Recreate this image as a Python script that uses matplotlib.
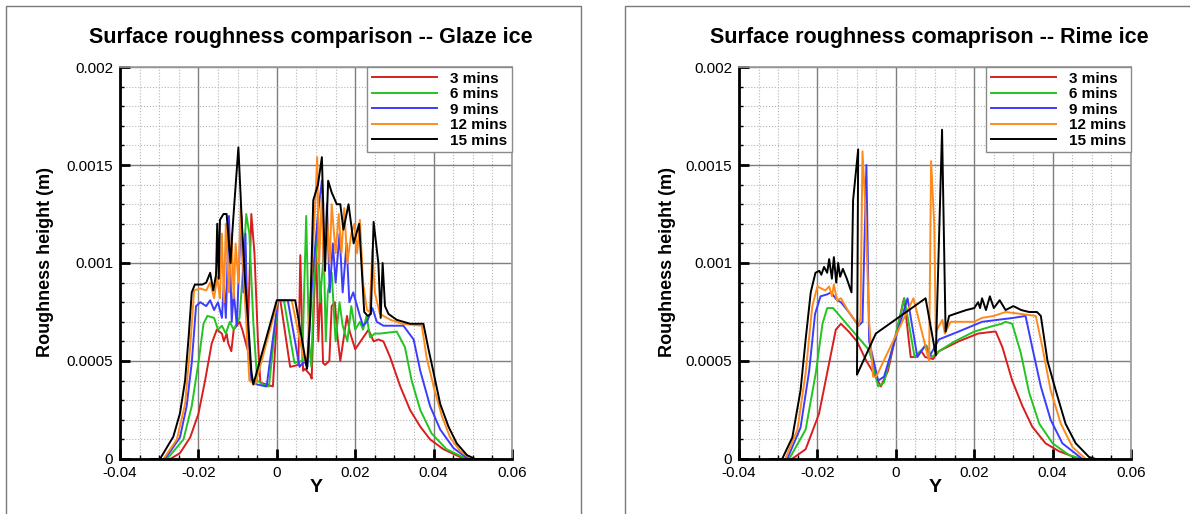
import numpy as np
import matplotlib
matplotlib.use("Agg")
import matplotlib.pyplot as plt
from matplotlib.patches import Rectangle

plt.rcParams['font.family'] = ['Liberation Sans', 'DejaVu Sans']

# ---- data: (Y position in m, roughness height in mm) ----
labels = ['3 mins', '6 mins', '9 mins', '12 mins', '15 mins']
colors = ['#d81e1e', '#22c422', '#3c3cff', '#ff8a1c', '#000000']

titles = ['Surface roughness comparison -- Glaze ice',
          'Surface roughness comaprison -- Rime ice']
xticks = [-0.04, -0.02, 0, 0.02, 0.04, 0.06]
xtick_labels = ['-0.04', '-0.02', '0', '0.02', '0.04', '0.06']
yticks = [0, 0.0005, 0.001, 0.0015, 0.002]
ytick_labels = ['0', '0.0005', '0.001', '0.0015', '0.002']

# glaze ice
glaze_3 = [(-0.032, 0), (-0.0272, 0), (-0.0247, 0.03), (-0.0221, 0.11), (-0.020, 0.23),
           (-0.0183, 0.40), (-0.0166, 0.59), (-0.0153, 0.66), (-0.014, 0.64), (-0.0135, 0.6),
           (-0.0128, 0.64), (-0.0124, 0.59), (-0.0116, 0.55), (-0.011, 0.66), (-0.0095, 0.7),
           (-0.0088, 0.66), (-0.0075, 0.56), (-0.0065, 1.25), (-0.0057, 1.05), (-0.0048, 0.6),
           (-0.0042, 0.39), (-0.001, 0.37), (0.0003, 0.81), (0.0009, 0.81), (0.0034, 0.47),
           (0.0055, 0.48), (0.006, 1.04), (0.0067, 0.45), (0.0072, 0.46), (0.0085, 0.43),
           (0.0089, 0.41), (0.0095, 0.8), (0.0100, 1.1), (0.0106, 0.6), (0.0112, 0.9),
           (0.0118, 0.49), (0.0123, 0.48), (0.0134, 0.5), (0.014, 0.78), (0.0148, 0.8),
           (0.0155, 0.62), (0.0162, 0.5), (0.0179, 0.73), (0.0186, 0.65), (0.020, 0.56),
           (0.0217, 0.61), (0.0234, 0.66), (0.0247, 0.6), (0.0259, 0.61), (0.0272, 0.6),
           (0.0289, 0.52), (0.0315, 0.37), (0.034, 0.25), (0.0366, 0.165), (0.0391, 0.1),
           (0.0425, 0.05), (0.0468, 0.01), (0.049, 0), (0.055, 0)]

glaze_6 = [(-0.032, 0), (-0.028, 0), (-0.0238, 0.1), (-0.0217, 0.27), (-0.020, 0.49),
           (-0.0187, 0.69), (-0.0177, 0.73), (-0.016, 0.72), (-0.015, 0.66), (-0.014, 0.68),
           (-0.013, 0.64), (-0.012, 0.7), (-0.011, 0.66), (-0.0095, 0.72), (-0.0085, 1.0),
           (-0.0078, 1.25), (-0.007, 1.15), (-0.006, 0.7), (-0.005, 0.4), (-0.0035, 0.38),
           (-0.002, 0.37), (0.0003, 0.81), (0.0018, 0.81), (0.0045, 0.49), (0.0065, 0.5),
           (0.0075, 1.24), (0.0082, 0.6), (0.0088, 0.47), (0.0095, 0.9), (0.0105, 1.2),
           (0.011, 0.8), (0.012, 1.05), (0.0125, 0.6), (0.013, 0.85), (0.014, 0.95),
           (0.015, 0.6), (0.016, 0.8), (0.0168, 0.68), (0.018, 0.6), (0.019, 0.78),
           (0.020, 0.66), (0.0212, 0.7), (0.022, 0.66), (0.0229, 0.73), (0.0238, 0.62),
           (0.025, 0.64), (0.0263, 0.64), (0.0306, 0.65), (0.0327, 0.57), (0.0344, 0.4),
           (0.0366, 0.25), (0.0395, 0.13), (0.0433, 0.05), (0.0485, 0), (0.055, 0)]

glaze_9 = [(-0.032, 0), (-0.0285, 0), (-0.0247, 0.11), (-0.023, 0.27), (-0.0217, 0.49),
           (-0.0206, 0.78), (-0.0195, 0.8), (-0.018, 0.78), (-0.017, 0.81), (-0.016, 0.76),
           (-0.015, 0.8), (-0.014, 0.72), (-0.0135, 0.9), (-0.013, 0.72), (-0.0122, 1.24),
           (-0.0115, 0.7), (-0.011, 0.85), (-0.0102, 0.68), (-0.0095, 1.05), (-0.009, 1.24),
           (-0.0085, 0.85), (-0.008, 1.15), (-0.0075, 0.7), (-0.0065, 0.4), (-0.005, 0.38),
           (-0.0026, 0.37), (0.0003, 0.81), (0.0028, 0.81), (0.0058, 0.47), (0.007, 0.5),
           (0.0078, 0.47), (0.009, 0.9), (0.0105, 1.25), (0.0115, 1.42), (0.012, 0.95),
           (0.0128, 1.3), (0.0135, 0.85), (0.0143, 1.1), (0.015, 0.9), (0.016, 1.15),
           (0.0168, 0.85), (0.0178, 1.1), (0.0185, 0.8), (0.0195, 0.85), (0.0205, 0.78),
           (0.0212, 0.73), (0.022, 0.68), (0.023, 0.7), (0.0244, 0.77), (0.0255, 0.7),
           (0.0272, 0.68), (0.030, 0.68), (0.0323, 0.68), (0.0349, 0.61), (0.0366, 0.45),
           (0.0391, 0.27), (0.0417, 0.15), (0.0451, 0.055), (0.0489, 0), (0.055, 0)]

glaze_12 = [(-0.032, 0), (-0.0289, 0), (-0.0255, 0.1), (-0.0234, 0.28), (-0.0221, 0.57),
            (-0.0211, 0.86), (-0.0195, 0.87), (-0.018, 0.86), (-0.017, 0.9), (-0.016, 0.82),
            (-0.0152, 0.93), (-0.0145, 0.82), (-0.014, 1.15), (-0.0135, 0.8), (-0.013, 1.2),
            (-0.0122, 0.85), (-0.0115, 1.15), (-0.011, 0.82), (-0.0105, 1.1), (-0.0098, 0.9),
            (-0.0092, 1.3), (-0.0085, 0.95), (-0.0078, 0.7), (-0.007, 0.4), (-0.0055, 0.38),
            (0.0003, 0.81), (0.0038, 0.81), (0.007, 0.5), (0.0078, 0.52), (0.009, 1.0),
            (0.0098, 1.3), (0.0103, 1.54), (0.0108, 1.0), (0.0115, 1.35), (0.012, 0.95),
            (0.0128, 1.25), (0.0135, 1.0), (0.014, 1.3), (0.015, 1.05), (0.0158, 1.25),
            (0.0165, 1.05), (0.0172, 1.28), (0.018, 1.0), (0.019, 1.15), (0.0198, 1.2),
            (0.0205, 1.05), (0.0212, 1.22), (0.022, 0.9), (0.023, 0.76), (0.0237, 0.75),
            (0.0244, 1.07), (0.025, 0.85), (0.0263, 0.74), (0.029, 0.71), (0.032, 0.69),
            (0.037, 0.68), (0.0382, 0.52), (0.040, 0.37), (0.0421, 0.22), (0.0442, 0.11),
            (0.0468, 0.04), (0.0497, 0), (0.055, 0)]

glaze_15 = [(-0.032, 0), (-0.0298, 0), (-0.0264, 0.114), (-0.0247, 0.233), (-0.0234, 0.4),
            (-0.0225, 0.62), (-0.0217, 0.85), (-0.0209, 0.89), (-0.019, 0.89), (-0.018, 0.9),
            (-0.017, 0.95), (-0.0162, 0.86), (-0.0155, 0.94), (-0.0152, 1.2), (-0.0148, 0.92),
            (-0.0145, 1.22), (-0.0136, 1.25), (-0.0128, 1.25), (-0.0118, 1.0), (-0.0113, 1.17),
            (-0.0107, 1.34), (-0.0098, 1.59), (-0.0089, 1.2), (-0.0081, 0.91), (-0.0073, 0.7),
            (-0.0065, 0.45), (-0.006, 0.38), (0.0, 0.81), (0.0047, 0.81), (0.0077, 0.46),
            (0.0085, 0.72), (0.0093, 1.32), (0.0105, 1.4), (0.0115, 1.54), (0.0123, 0.96),
            (0.0131, 1.42), (0.014, 1.36), (0.0153, 1.3), (0.0162, 1.3), (0.017, 1.17),
            (0.0183, 1.3), (0.0196, 1.1), (0.021, 1.2), (0.0223, 0.75), (0.0232, 0.73),
            (0.024, 0.74), (0.0247, 1.21), (0.0259, 1.0), (0.0265, 0.72), (0.027, 1.0),
            (0.0276, 0.78), (0.0285, 0.74), (0.0306, 0.71), (0.034, 0.69), (0.0374, 0.69),
            (0.0387, 0.56), (0.040, 0.44), (0.0417, 0.28), (0.0438, 0.165), (0.0459, 0.08),
            (0.0485, 0.02), (0.0506, 0), (0.055, 0)]

# rime ice
rime_3 = [(-0.032, 0), (-0.0265, 0), (-0.023, 0.05), (-0.0196, 0.23), (-0.017, 0.49),
          (-0.0153, 0.66), (-0.014, 0.69), (-0.012, 0.65), (-0.0099, 0.6), (-0.0075, 0.5),
          (-0.0051, 0.42), (-0.0038, 0.37), (-0.002, 0.45), (0.0021, 0.82), (0.0038, 0.52),
          (0.005, 0.52), (0.0065, 0.55), (0.0075, 0.52), (0.0095, 0.51), (0.011, 0.55),
          (0.016, 0.6), (0.021, 0.64), (0.025, 0.65), (0.0255, 0.65), (0.0272, 0.57),
          (0.0297, 0.4), (0.0323, 0.27), (0.0348, 0.165), (0.0382, 0.08), (0.0416, 0.04),
          (0.0468, 0), (0.055, 0)]

rime_6 = [(-0.032, 0), (-0.0272, 0), (-0.023, 0.15), (-0.0204, 0.44), (-0.0187, 0.69),
          (-0.0175, 0.77), (-0.016, 0.77), (-0.013, 0.7), (-0.010, 0.63), (-0.007, 0.56),
          (-0.006, 0.5), (-0.0045, 0.37), (-0.003, 0.39), (0.0022, 0.82), (0.0048, 0.52),
          (0.0062, 0.55), (0.0078, 0.58), (0.0092, 0.52), (0.011, 0.55), (0.015, 0.6),
          (0.020, 0.65), (0.025, 0.68), (0.027, 0.69), (0.028, 0.7), (0.0297, 0.69),
          (0.0319, 0.54), (0.034, 0.34), (0.0366, 0.18), (0.040, 0.08), (0.0442, 0.02),
          (0.0476, 0), (0.055, 0)]

rime_9 = [(-0.032, 0), (-0.0277, 0), (-0.0243, 0.16), (-0.0221, 0.45), (-0.0206, 0.74),
          (-0.0192, 0.83), (-0.0175, 0.84), (-0.0165, 0.85), (-0.015, 0.81), (-0.014, 0.8),
          (-0.012, 0.75), (-0.0095, 0.68), (-0.0085, 0.7), (-0.0075, 1.5), (-0.0068, 0.6),
          (-0.0045, 0.4), (-0.003, 0.42), (0.003, 0.82), (0.0055, 0.52), (0.0075, 0.58),
          (0.0085, 0.52), (0.011, 0.61), (0.016, 0.65), (0.022, 0.7), (0.026, 0.71),
          (0.030, 0.72), (0.0331, 0.73), (0.0348, 0.57), (0.037, 0.37), (0.0395, 0.2),
          (0.0425, 0.08), (0.0476, 0), (0.055, 0)]

rime_12 = [(-0.032, 0), (-0.0282, 0), (-0.0251, 0.15), (-0.023, 0.44), (-0.0213, 0.78),
           (-0.020, 0.88), (-0.018, 0.86), (-0.017, 0.88), (-0.0163, 0.83), (-0.0158, 0.89),
           (-0.015, 0.81), (-0.014, 0.82), (-0.012, 0.75), (-0.0095, 0.68), (-0.009, 0.72),
           (-0.0085, 1.57), (-0.0078, 1.3), (-0.0068, 0.7), (-0.0058, 0.42), (-0.005, 0.42),
           (0.0045, 0.82), (0.0085, 0.5), (0.009, 1.52), (0.0098, 1.2), (0.0102, 0.65),
           (0.0119, 0.71), (0.0125, 0.64), (0.014, 0.7), (0.020, 0.7), (0.022, 0.72),
           (0.025, 0.73), (0.028, 0.75), (0.032, 0.74), (0.0357, 0.73), (0.0374, 0.57),
           (0.0395, 0.35), (0.0421, 0.18), (0.0451, 0.06), (0.0485, 0), (0.055, 0)]

rime_15 = [(-0.032, 0), (-0.029, 0), (-0.0264, 0.11), (-0.0243, 0.35), (-0.023, 0.61),
           (-0.0217, 0.85), (-0.0205, 0.95), (-0.0195, 0.96), (-0.019, 0.94), (-0.0183, 0.98),
           (-0.0175, 0.95), (-0.017, 1.02), (-0.0163, 0.92), (-0.0158, 1.03), (-0.0152, 0.9),
           (-0.0147, 1.0), (-0.0142, 0.93), (-0.0135, 0.97), (-0.0125, 0.92), (-0.0113, 0.85),
           (-0.0109, 1.32), (-0.0096, 1.58), (-0.0099, 0.43), (-0.0051, 0.64), (0.0076, 0.82),
           (0.0102, 0.53), (0.0118, 1.68), (0.0127, 0.65), (0.0136, 0.73), (0.015, 0.74),
           (0.018, 0.76), (0.020, 0.77), (0.021, 0.8), (0.0215, 0.77), (0.022, 0.82),
           (0.023, 0.76), (0.024, 0.83), (0.025, 0.77), (0.0265, 0.81), (0.028, 0.76),
           (0.030, 0.78), (0.032, 0.76), (0.034, 0.75), (0.036, 0.75), (0.037, 0.73),
           (0.0387, 0.5), (0.0408, 0.35), (0.0433, 0.18), (0.0459, 0.08), (0.0493, 0.01),
           (0.051, 0), (0.055, 0)]

glaze_series = [glaze_3, glaze_6, glaze_9, glaze_12, glaze_15]
rime_series = [rime_3, rime_6, rime_9, rime_12, rime_15]

W, H = 1190, 514
fig = plt.figure(figsize=(W / 100, H / 100), dpi=100)

# panel frames
fig.patches.append(Rectangle((6 / W, -0.1), (581 - 6) / W, (H - 6) / H + 0.1,
                             transform=fig.transFigure, fill=False, edgecolor='#7a7a7a', lw=1))
fig.patches.append(Rectangle((625 / W, -0.1), 1.0, (H - 6) / H + 0.1,
                             transform=fig.transFigure, fill=False, edgecolor='#7a7a7a', lw=1))


def draw_panel(left_px, series, title, title_x, ylab_x, xlab_x):
    ax = fig.add_axes([left_px / W, (H - 459) / H, 392 / W, 392 / H])
    for pts, c, lab in zip(series, colors, labels):
        x, y = zip(*pts)
        ax.plot(x, np.array(y) * 1e-3, color=c, lw=1.4, label=lab)
    ax.set_xlim(-0.04, 0.06)
    ax.set_ylim(0, 0.002)
    ax.set_xticks(xticks)
    ax.set_xticklabels(xtick_labels)
    ax.set_yticks(yticks)
    ax.set_yticklabels(ytick_labels)
    ax.set_xticks(np.arange(-0.04, 0.0601, 0.005), minor=True)
    ax.set_yticks(np.arange(0, 0.00201, 0.0001), minor=True)
    ax.grid(which='major', color='#7f7f7f', lw=1, ls='-')
    ax.grid(which='minor', color='#b5b5b5', lw=0.8, ls=':')
    ax.set_axisbelow(True)
    ax.tick_params(which='major', direction='in', length=7, width=2, color='black',
                   labelsize=11, pad=5, top=False, right=False)
    ax.tick_params(which='minor', direction='in', length=3, width=1, color='black',
                   top=False, right=False)
    for s in ['left', 'bottom']:
        ax.spines[s].set_color('black')
        ax.spines[s].set_linewidth(2)
    for s in ['top', 'right']:
        ax.spines[s].set_color('#9a9a9a')
        ax.spines[s].set_linewidth(1.2)
    leg = ax.legend(loc='upper right', bbox_to_anchor=(1, 1), borderaxespad=0,
                    fancybox=False, framealpha=1, edgecolor='#8a8a8a',
                    prop={'weight': 'bold', 'size': 11}, handlelength=4.3,
                    handletextpad=0.85, labelspacing=0.1, borderpad=0.3)
    leg.get_frame().set_linewidth(1)
    fig.text(title_x / W, 1 - 38 / H, title, ha='center', va='center',
             fontsize=15.5, fontweight='bold')
    fig.text(ylab_x / W, 1 - 262 / H, 'Roughness height (m)', ha='center', va='center',
             rotation=90, fontsize=13, fontweight='bold')
    fig.text(xlab_x / W, 1 - 487 / H, 'Y', ha='center', va='center',
             fontsize=14, fontweight='bold')
    return ax


draw_panel(120, glaze_series, titles[0], 311, 46, 316)
draw_panel(739, rime_series, titles[1], 929, 668, 935)

fig.savefig('out.png', dpi=100)
